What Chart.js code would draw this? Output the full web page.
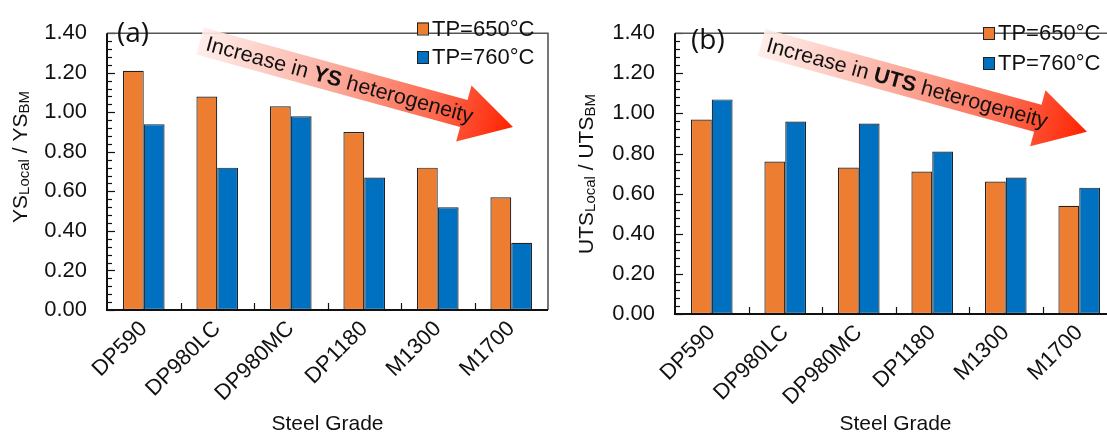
<!DOCTYPE html>
<html><head><meta charset="utf-8">
<script src="https://cdn.jsdelivr.net/npm/chart.js@4.4.1/dist/chart.umd.min.js"></script>
<style>
html,body{margin:0;padding:0;background:#fff;overflow:hidden;width:1107px;height:437px;position:relative;}
#ca{position:absolute;left:0;top:0;}
#cb{position:absolute;left:560px;top:0;}
</style></head><body>
<canvas id="ca" width="556" height="437"></canvas>
<canvas id="cb" width="560" height="437"></canvas>
<script>
// ---- data ----
const categories = ['DP590', 'DP980LC', 'DP980MC', 'DP1180', 'M1300', 'M1700'];
const seriesNames = ['TP=650°C', 'TP=760°C'];
const ysTP650 = [1.21, 1.08, 1.03, 0.90, 0.72, 0.57];
const ysTP760 = [0.94, 0.72, 0.98, 0.67, 0.52, 0.34];
const utsTP650 = [0.97, 0.76, 0.73, 0.71, 0.66, 0.54];
const utsTP760 = [1.07, 0.96, 0.95, 0.81, 0.68, 0.63];
const yTickValues = [0.00, 0.20, 0.40, 0.60, 0.80, 1.00, 1.20, 1.40];
const minorTickValues = [];
for (let k = 0; k <= 35; k++) minorTickValues.push(+(k * 0.04).toFixed(2));

const SANS = '"Liberation Sans", Arial, Helvetica, sans-serif';
const TXT = '#111';

const decoPlugin = {
  id: 'deco',
  afterDatasetsDraw(chart, args, o) {
    const {ctx, chartArea: a, scales: {x, y}} = chart;
    ctx.save();
    // inward tick marks
    ctx.strokeStyle = '#111';
    ctx.lineWidth = 1.2;
    minorTickValues.forEach((v, k) => {
      const py = Math.round(y.getPixelForValue(v)) + 0.5;
      const len = (k % 5 === 0) ? 8 : 5;
      ctx.beginPath(); ctx.moveTo(a.left, py); ctx.lineTo(a.left + len, py); ctx.stroke();
    });
    for (let i = 0; i < categories.length - 1; i++) {
      const px = Math.round((x.getPixelForValue(i) + x.getPixelForValue(i + 1)) / 2) + 0.5;
      ctx.beginPath(); ctx.moveTo(px, a.bottom); ctx.lineTo(px, a.bottom - 7); ctx.stroke();
    }
    // frame
    ctx.strokeStyle = '#555';
    ctx.lineWidth = 1.6;
    ctx.beginPath(); ctx.moveTo(a.left, a.top); ctx.lineTo(a.right, a.top); ctx.lineTo(a.right, a.bottom); ctx.stroke();
    ctx.strokeStyle = '#111';
    ctx.lineWidth = 2;
    ctx.beginPath(); ctx.moveTo(a.left, a.top); ctx.lineTo(a.left, a.bottom); ctx.lineTo(a.right, a.bottom); ctx.stroke();

    // arrow
    const ar = o.arrow;
    const dx = ar.tx - ar.sx, dy = ar.ty - ar.sy;
    const L = Math.hypot(dx, dy), ang = Math.atan2(dy, dx);
    ctx.save();
    ctx.translate(ar.sx, ar.sy);
    ctx.rotate(ang);
    const g = ctx.createLinearGradient(0, 0, L, 0);
    g.addColorStop(0, 'rgba(255,236,232,0.9)');
    g.addColorStop(0.4, '#FBB0A2');
    g.addColorStop(0.75, '#FC6A50');
    g.addColorStop(1, '#FF2200');
    ctx.fillStyle = g;
    const hw = 14, hh = 29, hl = 51;
    ctx.beginPath();
    ctx.moveTo(0, -hw); ctx.lineTo(L - hl, -hw); ctx.lineTo(L - hl, -hh); ctx.lineTo(L, 0);
    ctx.lineTo(L - hl, hh); ctx.lineTo(L - hl, hw); ctx.lineTo(0, hw); ctx.closePath();
    ctx.fill();
    // arrow text
    ctx.fillStyle = TXT;
    ctx.textBaseline = 'alphabetic';
    let tx = ar.textStart;
    ar.parts.forEach(p => {
      ctx.font = (p.bold ? 'bold ' : '') + '21.5px ' + SANS;
      ctx.fillText(p.t, tx, 7.5);
      tx += ctx.measureText(p.t).width;
    });
    ctx.restore();

    // legend
    ctx.textBaseline = 'middle';
    ctx.font = '22px ' + SANS;
    chart.data.datasets.forEach((ds, i) => {
      const ry = o.legend.y[i];
      ctx.fillStyle = ds.backgroundColor;
      ctx.fillRect(o.legend.x, ry - 6, 11, 12);
      ctx.strokeStyle = '#222'; ctx.lineWidth = 1;
      ctx.strokeRect(o.legend.x + 0.5, ry - 5.5, 11, 12);
      ctx.fillStyle = TXT;
      ctx.fillText(ds.label, o.legend.x + 15, ry + 1);
    });

    // panel letter
    ctx.font = '28px "Open Sans", ' + SANS;
    ctx.fillStyle = TXT;
    ctx.fillText(o.panel.t, o.panel.x, o.panel.y);

    // y-axis title with subscripts
    ctx.save();
    ctx.translate(o.ytitle.x, o.ytitle.y);
    ctx.rotate(-Math.PI / 2);
    ctx.textBaseline = 'alphabetic';
    let total = 0;
    o.ytitle.parts.forEach(p => { ctx.font = (p.sub ? 15 : 21) + 'px ' + SANS; total += ctx.measureText(p.t).width; });
    let px = -total / 2;
    o.ytitle.parts.forEach(p => {
      ctx.font = (p.sub ? 15 : 21) + 'px ' + SANS;
      ctx.fillText(p.t, px, p.sub ? 9.5 : 7.5);
      px += ctx.measureText(p.t).width;
    });
    ctx.restore();
    ctx.restore();
  }
};

function makeChart(id, d650, d760, cfg) {
  return new Chart(document.getElementById(id), {
    type: 'bar',
    data: {
      labels: categories,
      datasets: [
        {label: seriesNames[0], data: d650, backgroundColor: '#ED7D31', borderColor: '#222', borderWidth: 1.2,
         borderSkipped: false, categoryPercentage: 0.567, barPercentage: 1},
        {label: seriesNames[1], data: d760, backgroundColor: '#0070C0', borderColor: '#222', borderWidth: 1.2,
         borderSkipped: false, categoryPercentage: 0.567, barPercentage: 1}
      ]
    },
    options: {
      responsive: false, animation: false, devicePixelRatio: 1,
      layout: {padding: {left: 0, top: cfg.padTop, right: cfg.padRight, bottom: 0}},
      plugins: {legend: {display: false}, tooltip: {enabled: false}, deco: cfg.deco},
      scales: {
        x: {
          grid: {display: false, drawTicks: false},
          border: {display: false},
          ticks: {color: TXT, font: {family: SANS, size: 22}, minRotation: 45, maxRotation: 45, autoSkip: false, padding: 6},
          title: {display: true, text: 'Steel Grade', color: TXT, font: {family: SANS, size: 21}, padding: {top: 0, bottom: 0}},
          afterFit: s => { s.height = cfg.xHeight; }
        },
        y: {
          min: 0, max: 1.4,
          afterBuildTicks: s => { s.ticks = yTickValues.map(v => ({value: v})); },
          grid: {display: false, drawTicks: false},
          border: {display: false},
          ticks: {color: TXT, font: {family: SANS, size: 22}, padding: 20, callback: v => Number(v).toFixed(2)},
          afterFit: s => { s.width = cfg.yWidth; }
        }
      }
    },
    plugins: [decoPlugin]
  });
}

makeChart('ca', ysTP650, ysTP760, {
  padTop: 15, padRight: 8, xHeight: 127, yWidth: 107,
  deco: {
    arrow: {sx: 200, sy: 41, tx: 513, ty: 127, textStart: 7,
            parts: [{t: 'Increase in '}, {t: 'YS', bold: true}, {t: ' heterogeneity'}]},
    legend: {x: 417, y: [28.5, 57]},
    panel: {t: '(a)', x: 117, y: 34},
    ytitle: {x: 19, y: 157, parts: [{t: 'YS'}, {t: 'Local', sub: true}, {t: ' / YS'}, {t: 'BM', sub: true}]}
  }
});
makeChart('cb', utsTP650, utsTP760, {
  padTop: 15, padRight: 4, xHeight: 123, yWidth: 115,
  deco: {
    arrow: {sx: 201.5, sy: 42.5, tx: 527, ty: 131.7, textStart: 6,
            parts: [{t: 'Increase in '}, {t: 'UTS', bold: true}, {t: ' heterogeneity'}]},
    legend: {x: 423, y: [33, 63]},
    panel: {t: '(b)', x: 131, y: 41},
    ytitle: {x: 25.5, y: 174, parts: [{t: 'UTS'}, {t: 'Local', sub: true}, {t: ' / UTS'}, {t: 'BM', sub: true}]}
  }
});
</script>
</body></html>
